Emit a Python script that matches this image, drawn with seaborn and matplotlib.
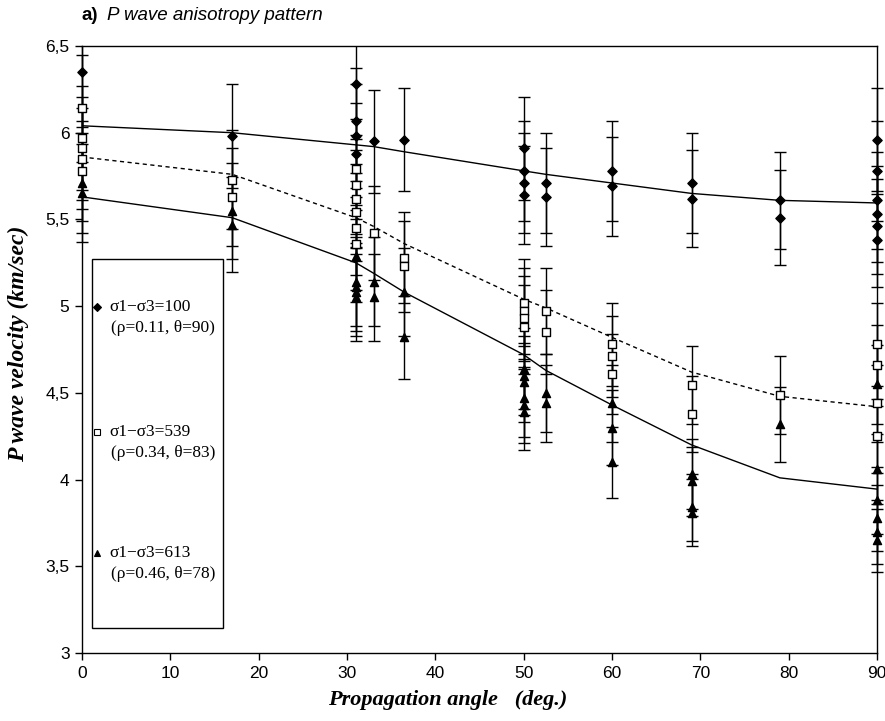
import matplotlib
matplotlib.use("Agg")
import matplotlib.pyplot as plt
import numpy as np
import pandas as pd
import seaborn as sns
from matplotlib.patches import Rectangle
from matplotlib.lines import Line2D

# measured points (propagation angle in deg., P wave velocity in km/s)
s1_angle = [0, 17, 31, 31, 31, 31, 33, 36.5, 50, 50, 50, 50, 52.5, 52.5,
            60, 60, 69, 69, 79, 79, 90, 90, 90, 90, 90, 90]
s1_vel = [6.35, 5.98, 6.28, 6.07, 5.98, 5.88, 5.95, 5.96, 5.91, 5.78, 5.71, 5.64, 5.71, 5.63,
          5.78, 5.69, 5.71, 5.62, 5.61, 5.51, 5.96, 5.78, 5.61, 5.53, 5.46, 5.38]

s2_angle = [0, 0, 0, 0, 0, 17, 17, 31, 31, 31, 31, 31, 31, 33, 36.5, 36.5,
            50, 50, 50, 50, 52.5, 52.5, 60, 60, 60, 69, 69, 79, 90, 90, 90, 90]
s2_vel = [6.14, 5.97, 5.91, 5.85, 5.78, 5.73, 5.63, 5.79, 5.70, 5.62, 5.54, 5.45, 5.36, 5.42, 5.28, 5.23,
          5.02, 4.97, 4.93, 4.88, 4.97, 4.85, 4.78, 4.71, 4.61, 4.545, 4.38, 4.49, 4.78, 4.66, 4.44, 4.25]

s3_angle = [0, 0, 17, 17, 31, 31, 31, 31, 31, 33, 33, 36.5, 36.5,
            50, 50, 50, 50, 50, 50, 52.5, 52.5, 60, 60, 60, 69, 69, 69, 69, 79,
            90, 90, 90, 90, 90, 90]
s3_vel = [5.71, 5.65, 5.55, 5.47, 5.29, 5.14, 5.11, 5.08, 5.05, 5.14, 5.05, 5.08, 4.82,
          4.64, 4.60, 4.56, 4.47, 4.43, 4.39, 4.50, 4.44, 4.44, 4.30, 4.10, 4.03, 3.99, 3.84, 3.81, 4.32,
          4.55, 4.06, 3.88, 3.78, 3.70, 3.65]

rel_err = 0.05  # error bars ~5 % of the velocity

# fitted curves
fit_angle = [0, 17, 31, 33, 36.5, 50, 52.5, 60, 69, 79, 90]
fit1 = [6.04, 6.00, 5.93, 5.92, 5.89, 5.78, 5.76, 5.71, 5.65, 5.61, 5.595]
fit2 = [5.86, 5.76, 5.51, 5.46, 5.36, 5.04, 4.99, 4.82, 4.62, 4.48, 4.42]
fit3 = [5.63, 5.51, 5.25, 5.19, 5.08, 4.72, 4.63, 4.43, 4.20, 4.01, 3.945]

labels1 = ["σ1−σ3=100", "σ1−σ3=539", "σ1−σ3=613"]
labels2 = ["(ρ=0.11, θ=90)", "(ρ=0.34, θ=83)", "(ρ=0.46, θ=78)"]

x_ticks = [0, 10, 20, 30, 40, 50, 60, 70, 80, 90]
y_ticks = [3, 3.5, 4, 4.5, 5, 5.5, 6, 6.5]

sns.set_style("ticks")
plt.rcParams['font.family'] = ['Liberation Sans', 'DejaVu Sans']
plt.rcParams.update({'text.color': 'black', 'axes.labelcolor': 'black',
                     'xtick.color': 'black', 'ytick.color': 'black'})

W, H = 885, 721
fig = plt.figure(figsize=(W / 100, H / 100), dpi=100)
ax = fig.add_axes([82 / W, 1 - 653 / H, (877 - 82) / W, (653 - 46) / H])

pts = pd.concat([
    pd.DataFrame({'angle': s1_angle, 'vel': s1_vel, 'serie': 1}),
    pd.DataFrame({'angle': s2_angle, 'vel': s2_vel, 'serie': 2}),
    pd.DataFrame({'angle': s3_angle, 'vel': s3_vel, 'serie': 3}),
], ignore_index=True)

# error bars: cut at top/bottom of the frame, caps may stick out left/right
cont = ax.errorbar(pts['angle'], pts['vel'], yerr=pts['vel'] * rel_err, fmt='none',
                   ecolor='black', elinewidth=1, capsize=4, capthick=1, zorder=2)
clip_box = Rectangle((-0.03, 0), 1.06, 1, transform=ax.transAxes, visible=False)
ax.add_patch(clip_box)
for art in list(cont.lines[1]) + list(cont.lines[2]):
    art.set_clip_path(clip_box)

# fitted curves
sns.lineplot(x=fit_angle, y=fit1, color='black', lw=1, ax=ax, zorder=2.5)
sns.lineplot(x=fit_angle, y=fit2, color='black', lw=1, linestyle=(0, (3, 2.5)), ax=ax, zorder=2.5)
sns.lineplot(x=fit_angle, y=fit3, color='black', lw=1, ax=ax, zorder=2.5)

# markers
styles = {1: dict(marker='D', facecolor='black', s=22),
          2: dict(marker='s', facecolor='white', s=34),
          3: dict(marker='^', facecolor='black', s=34)}
for k, st in styles.items():
    d = pts[pts['serie'] == k]
    sns.scatterplot(x=d['angle'], y=d['vel'], marker=st['marker'], color=st['facecolor'],
                    edgecolor='black', linewidth=1, s=st['s'], ax=ax, zorder=3, clip_on=False)

ax.set_xlim(0, 90)
ax.set_ylim(3, 6.5)
ax.set_xticks(x_ticks)
ax.set_xticklabels([str(v) for v in x_ticks])
ax.set_yticks(y_ticks)
ax.set_yticklabels([f"{v:g}".replace('.', ',') for v in y_ticks])
ax.tick_params(direction='out', length=5, width=1, labelsize=12.5, colors='black', pad=4)
for sp in ax.spines.values():
    sp.set_linewidth(1)
    sp.set_color('black')

lab_font = dict(family='Liberation Serif', weight='bold', style='italic', color='black')
ax.set_xlabel("Propagation angle   (deg.)", size=16, **lab_font)
ax.xaxis.set_label_coords((448 - 82) / 795, (653 - 690) / 607)
ax.set_ylabel("P wave velocity (km/sec)", size=17, **lab_font)
ax.yaxis.set_label_coords((29 - 82) / 795, (653 - 344) / 607)

# title
fig.text(82 / W, 1 - 16 / H, "a)", family='Liberation Sans', weight='bold', size=13.5, va='center')
fig.text(107 / W, 1 - 16 / H, "P wave anisotropy pattern", family='Liberation Sans',
         style='italic', size=13.5, va='center')

# legend box drawn by hand
fig.add_artist(Rectangle((92 / W, 1 - 628 / H), 131 / W, 369 / H, transform=fig.transFigure,
                         facecolor='white', edgecolor='black', lw=1))
rows = [307, 432, 553]
for i, yy in enumerate(rows):
    st = styles[i + 1]
    fig.add_artist(Line2D([97 / W], [1 - yy / H], marker=st['marker'], markersize=4 if i == 0 else 5,
                          markerfacecolor=st['facecolor'], markeredgecolor='black',
                          markeredgewidth=0.8, transform=fig.transFigure))
    fig.text(109 / W, 1 - yy / H, labels1[i], family='Liberation Serif', size=12.5, va='center')
    fig.text(111 / W, 1 - (yy + 21) / H, labels2[i], family='Liberation Serif', size=12.5, va='center')

fig.savefig("out.png", dpi=100)
